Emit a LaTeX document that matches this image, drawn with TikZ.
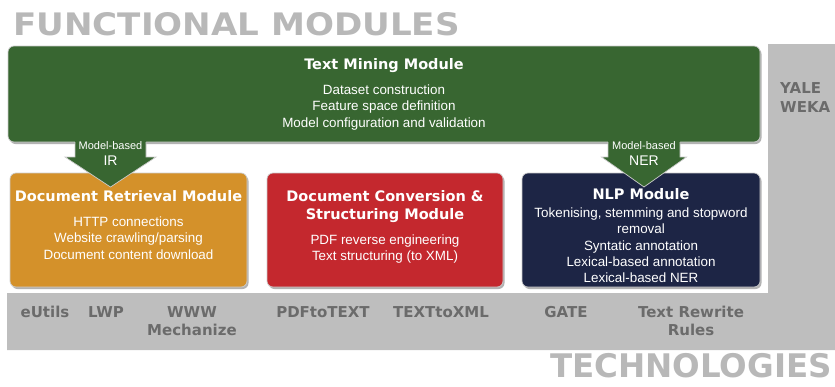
\documentclass[tikz,border=0pt]{standalone}
\usepackage{fontspec}
\setmainfont{Liberation Sans}
\newfontfamily\dejavu{DejaVu Sans}
\usetikzlibrary{shadows}

\definecolor{tmgreen}{HTML}{386631}
\definecolor{drorange}{HTML}{D4912A}
\definecolor{dcred}{HTML}{C4282E}
\definecolor{nlpnavy}{HTML}{1D2545}
\definecolor{panelgray}{HTML}{BEBEBE}
\definecolor{titlegray}{HTML}{B8B8B8}
\definecolor{techgray}{HTML}{6B6B6B}

\newcommand{\modtitle}{\dejavu\bfseries\fontsize{14.5}{18}\selectfont}
\newcommand{\modbody}{\fontsize{13.4}{16.3}\selectfont}
\newcommand{\techfont}{\dejavu\bfseries\fontsize{15}{18}\selectfont}

\begin{document}
\begin{tikzpicture}[x=1pt,y=-1pt,
  modbox/.style={draw=white!80!black,line width=0.7pt,rounded corners=6pt,
    drop shadow={shadow xshift=1.5pt,shadow yshift=-2pt,fill=black!60}},
  modtext/.style={text=white,align=center,inner sep=0pt,font=\modbody,anchor=north},
  arrowedge/.style={draw=white!80!black,line width=0.7pt},
  tech/.style={text=techgray,font=\techfont,align=center,inner sep=0pt,anchor=north},
  bigtitle/.style={text=titlegray,inner sep=0pt,anchor=base west,font=\dejavu\bfseries}]
  \useasboundingbox (0,0) rectangle (835,386);

  % grey technology panel
  \fill[panelgray] (768,44) -- (835,44) -- (835,350) -- (7,350) -- (7,293) -- (768,293) -- cycle;
  \node[bigtitle] (fm) at (13,35) {\fontsize{31}{31}\selectfont\scalebox{1.1}[1]{FUNCTIONAL MODULES}};
  \node[bigtitle,anchor=base east] (tech) at (832,377) {\fontsize{32.5}{33}\selectfont TECHNOLOGIES};

  % modules
  \node[modbox,fill=tmgreen,minimum width=752pt,minimum height=96pt] (tm) at (384,94) {};
  \node[modtext] (tmtext) at ([yshift=-13pt]tm.north)
    {{\modtitle Text Mining Module}\\[8.4pt] Dataset construction\\ Feature space definition\\ Model configuration and validation};

  \node[modbox,fill=drorange,minimum width=237pt,minimum height=114pt] (dr) at (128.5,230) {};
  \node[modtext] (drtext) at ([yshift=-18pt]dr.north)
    {{\modtitle Document Retrieval Module}\\[8.4pt] HTTP connections\\ Website crawling/parsing\\ Document content download};

  \node[modbox,fill=dcred,minimum width=236pt,minimum height=114pt] (dc) at (385,230) {};
  \node[modtext] (dctext) at ([yshift=-18pt]dc.north)
    {{\modtitle Document Conversion \&}\\[1.7pt] {\modtitle Structuring Module}\\[8.4pt] PDF reverse engineering\\ Text structuring (to XML)};

  \node[modbox,fill=nlpnavy,minimum width=238pt,minimum height=114pt] (nlp) at (641,230) {};
  \node[modtext] (nlptext) at ([yshift=-16pt]nlp.north)
    {{\modtitle NLP Module}\\[1.4pt] Tokenising, stemming and stopword\\ removal\\ Syntatic annotation\\ Lexical-based annotation\\ Lexical-based NER};

  % model-based arrows
  \coordinate (irtop) at (110.5,142); \coordinate (irtip) at (110.5,187);
  \fill[tmgreen] (irtop) ++(-35.5,-1) -- ++(71,0) -- ++(0,16) -- ++(10,0) -- (irtip)
       -- ++(-45.5,-30) -- ++(10,0) -- cycle;
  \draw[arrowedge] (irtop) ++(35.5,0) -- ++(0,15) -- ++(10,0) -- (irtip) -- ++(-45.5,-30)
       -- ++(10,0) -- ++(0,-15);
  \node[text=white,inner sep=0pt,font=\fontsize{11}{12}\selectfont] (irmb) at (110.5,146) {Model-based};
  \node[text=white,inner sep=0pt,font=\fontsize{14}{16}\selectfont] (ir) at (110.5,161) {IR};

  \coordinate (nertop) at (644,142); \coordinate (nertip) at (644,187);
  \fill[tmgreen] (nertop) ++(-36,-1) -- ++(72,0) -- ++(0,16) -- ++(6.5,0) -- (nertip)
       -- ++(-42.5,-30) -- ++(6.5,0) -- cycle;
  \draw[arrowedge] (nertop) ++(36,0) -- ++(0,15) -- ++(6.5,0) -- (nertip) -- ++(-42.5,-30)
       -- ++(6.5,0) -- ++(0,-15);
  \node[text=white,inner sep=0pt,font=\fontsize{11}{12}\selectfont] (nermb) at (644,146) {Model-based};
  \node[text=white,inner sep=0pt,font=\fontsize{14}{16}\selectfont] (ner) at (644,161) {NER};

  % technologies
  \node[tech,align=left,anchor=north west] (yale) at (780,82) {YALE\\[1pt]WEKA};
  \node[tech] (eutils) at (45,306) {eUtils};
  \node[tech] (lwp) at (106,306) {LWP};
  \node[tech] (www) at (192,306) {WWW\\Mechanize};
  \node[tech] (pdf) at (323,306) {PDFtoTEXT};
  \node[tech] (txml) at (441,306) {TEXTtoXML};
  \node[tech] (gate) at (566,306) {GATE};
  \node[tech] (rules) at (691,306) {Text Rewrite\\Rules};
\end{tikzpicture}
\end{document}
